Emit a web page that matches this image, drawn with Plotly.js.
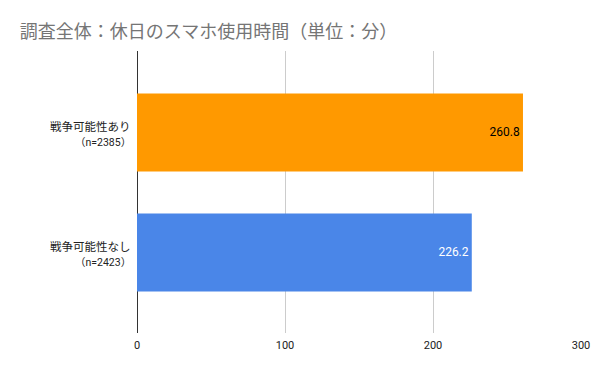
<!DOCTYPE html>
<html>
<head>
<meta charset="utf-8">
<script src="https://cdn.plot.ly/plotly-3.0.1.min.js"></script>
<style>html,body{margin:0;padding:0;background:#fff;}#chart{width:600px;height:371px;}</style>
</head>
<body>
<div id="chart"></div>
<script>
var categories = ["戦争可能性あり", "戦争可能性なし"];
var sampleSizes = ["（n=2385）", "（n=2423）"];
var values = [260.8, 226.2];
var barColors = ["#ff9900", "#4a86e8"];
var labelColors = ["#000000", "#ffffff"];
var xTicks = [0, 100, 200, 300];

var trace = {
  type: "bar",
  orientation: "h",
  x: values,
  y: categories,
  marker: { color: barColors, line: { width: 0 } },
  width: 0.65,
  text: values.map(function (v) { return v.toFixed(1); }),
  textposition: "inside",
  insidetextanchor: "end",
  textangle: 0,
  textfont: { color: labelColors, size: 12, family: "Roboto, 'Noto Sans CJK JP', sans-serif" },
  hoverinfo: "none",
  cliponaxis: false
};

var annotations = [];
categories.forEach(function (c, i) {
  annotations.push({
    xref: "paper", x: 0, xanchor: "right", xshift: -4,
    yref: "y", y: c, yanchor: "middle", yshift: 6,
    text: c, showarrow: false,
    font: { size: 11.5, color: "#222222", family: "'Noto Sans CJK JP', sans-serif" }
  });
  annotations.push({
    xref: "paper", x: 0, xanchor: "right", xshift: -4,
    yref: "y", y: c, yanchor: "middle", yshift: -10,
    text: sampleSizes[i], showarrow: false,
    font: { size: 10.5, color: "#222222", family: "Roboto, 'Noto Sans CJK JP', sans-serif" }
  });
});

var layout = {
  width: 600,
  height: 371,
  margin: { l: 137, r: 19, t: 51, b: 38 },
  paper_bgcolor: "#ffffff",
  plot_bgcolor: "#ffffff",
  font: { family: "Roboto, 'Noto Sans CJK JP', sans-serif", color: "#222222", size: 11 },
  title: {
    text: "調査全体：休日のスマホ使用時間（単位：分）",
    x: 0.033, xanchor: "left", y: 0.915, yanchor: "middle",
    font: { size: 18, color: "#757575", family: "'Noto Sans CJK JP', Roboto, sans-serif" }
  },
  showlegend: false,
  annotations: annotations,
  xaxis: {
    range: [0, 300],
    tickvals: xTicks,
    ticktext: xTicks.map(String),
    showgrid: true,
    gridcolor: "#cccccc",
    gridwidth: 1,
    zeroline: true,
    zerolinecolor: "#333333",
    zerolinewidth: 1,
    showline: false,
    ticks: "",
    ticklabelstandoff: 4,
    tickfont: { size: 11, color: "#222222" },
    fixedrange: true
  },
  yaxis: {
    type: "category",
    range: [1.671, -0.679],
    showticklabels: false,
    showgrid: false,
    zeroline: false,
    showline: false,
    ticks: "",
    fixedrange: true
  }
};

Plotly.newPlot("chart", [trace], layout, { displayModeBar: false, staticPlot: true });
</script>
</body>
</html>
